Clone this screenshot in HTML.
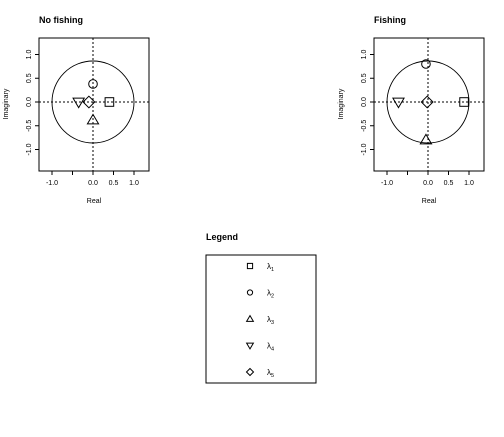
<!DOCTYPE html>
<html><head><meta charset="utf-8"><style>
body{margin:0;background:#fff;font-family:"Liberation Sans",Arial,sans-serif}
svg text{font-family:"Liberation Sans",Arial,sans-serif}
</style></head><body>
<svg id="s" width="504" height="432" viewBox="0 0 504 432"></svg>
<script>
const panels = ["No fishing", "Fishing"];
const noFishRe = [0.4, 0.0, 0.0, -0.35, -0.1];
const noFishIm = [0.0, 0.38, -0.38, 0.0, 0.0];
const fishRe = [0.88, -0.05, -0.05, -0.72, -0.02];
const fishIm = [0.0, 0.8, -0.8, 0.0, 0.0];
const xTicks = [-1.0, -0.5, 0.0, 0.5, 1.0];
const xTickLabels = ["-1.0", "", "0.0", "0.5", "1.0"];
const yTicks = [-1.0, -0.5, 0.0, 0.5, 1.0];
const yTickLabels = ["-1.0", "-0.5", "0.0", "0.5", "1.0"];
const legendLabels = ["1", "2", "3", "4", "5"];
const shapes = ["square", "circle", "up", "down", "diamond"];

const NS = "http://www.w3.org/2000/svg";
const svg = document.getElementById("s");
function mk(tag, attrs, parent) {
  const e = document.createElementNS(NS, tag);
  for (const k in attrs) e.setAttribute(k, attrs[k]);
  (parent || svg).appendChild(e);
  return e;
}
function marker(shape, cx, cy, r, parent) {
  const st = {fill: "none", stroke: "#000", "stroke-width": 1};
  let e;
  if (shape === "square") e = mk("rect", Object.assign({x: cx - r, y: cy - r, width: 2 * r, height: 2 * r}, st), parent);
  else if (shape === "circle") e = mk("circle", Object.assign({cx: cx, cy: cy, r: r}, st), parent);
  else if (shape === "up") e = mk("polygon", Object.assign({points: `${cx},${cy - r * 1.3} ${cx - r * 1.3},${cy + r * 0.9} ${cx + r * 1.3},${cy + r * 0.9}`}, st), parent);
  else if (shape === "down") e = mk("polygon", Object.assign({points: `${cx},${cy + r * 1.3} ${cx - r * 1.3},${cy - r * 0.9} ${cx + r * 1.3},${cy - r * 0.9}`}, st), parent);
  else e = mk("polygon", Object.assign({points: `${cx},${cy - r * 1.35} ${cx + r * 1.35},${cy} ${cx},${cy + r * 1.35} ${cx - r * 1.35},${cy}`}, st), parent);
  return e;
}
function panel(idx, ox, re, im) {
  const g = mk("g", {});
  
  
  const cx0 = ox + 54, cy0 = 102, sx = 41, sy = 47.5;
  const X = v => cx0 + v * sx, Y = v => cy0 - v * sy;
  const t = mk("text", {x: ox, y: 23, "font-size": 9, "font-weight": "bold"}, g);
  t.textContent = panels[idx];
  
  
  mk("rect", {x: ox, y: 38, width: 110, height: 133, fill: "none", stroke: "#000", "stroke-width": 1}, g);
  mk("line", {x1: ox, x2: ox + 110, y1: Y(0), y2: Y(0), stroke: "#000", "stroke-dasharray": "2,2"}, g);
  mk("line", {x1: X(0), x2: X(0), y1: 38, y2: 171, stroke: "#000", "stroke-dasharray": "2,2"}, g);
  mk("circle", {cx: X(0), cy: Y(0), r: 41, fill: "none", stroke: "#000", "stroke-width": 0.9}, g);
  xTicks.forEach((v, i) => {
    mk("line", {x1: X(v), x2: X(v), y1: 171, y2: 175, stroke: "#000"}, g);
    const l = mk("text", {x: X(v), y: 185, "font-size": 7, "text-anchor": "middle"}, g);
    l.textContent = xTickLabels[i];
  });
  yTicks.forEach((v, i) => {
    mk("line", {x1: ox - 4, x2: ox, y1: Y(v), y2: Y(v), stroke: "#000"}, g);
    const l = mk("text", {x: 0, y: 0, "font-size": 7, "text-anchor": "middle", transform: `translate(${ox - 8},${Y(v)}) rotate(-90)`}, g);
    l.textContent = yTickLabels[i];
  });
  const xl = mk("text", {x: ox + 55, y: 203, "font-size": 7, "text-anchor": "middle"}, g);
  xl.textContent = "Real";
  
  
  const yl = mk("text", {x: 0, y: 0, "font-size": 7, "text-anchor": "middle", transform: `translate(${ox - 31},104) rotate(-90)`}, g);
  yl.textContent = "Imaginary";
  
  
  re.forEach((v, i) => {
    const m = marker(shapes[i], X(v), Y(im[i]), 4.3, g);
    
    
  });
}
panel(0, 39, noFishRe, noFishIm);
panel(1, 374, fishRe, fishIm);

const lt = mk("text", {x: 206, y: 240, "font-size": 9, "font-weight": "bold"});
lt.textContent = "Legend";


const lb = mk("rect", {x: 206, y: 255, width: 110, height: 128, fill: "none", stroke: "#000"});


legendLabels.forEach((s, i) => {
  const y = 266 + i * 26.5;
  const m = marker(shapes[i], 250, y, 2.6);
  
  
  const t = mk("text", {x: 267, y: y + 3, "font-size": 8});
  t.innerHTML = 'λ<tspan font-size="5.5" dy="2">' + s + '</tspan>';
  
  
});
</script>
</body></html>
